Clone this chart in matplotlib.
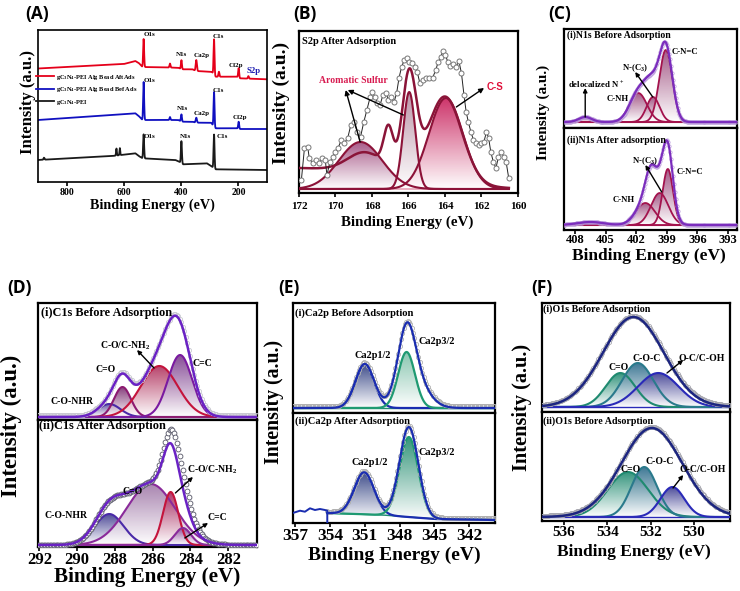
import numpy as np
import matplotlib
matplotlib.use('Agg')
import matplotlib.pyplot as plt
from matplotlib.colors import LinearSegmentedColormap
from matplotlib.patches import Polygon

plt.rcParams['font.family'] = 'Liberation Serif'
plt.rcParams['font.weight'] = 'bold'
plt.rcParams['mathtext.fontset'] = 'custom'
plt.rcParams['mathtext.rm'] = 'Liberation Serif:bold'
plt.rcParams['mathtext.default'] = 'rm'

# ---------------- (A) survey spectra ----------------
red_base_e = [900, 600, 560, 548, 535, 410, 398, 360, 349, 300, 292, 282, 205, 195, 100]
red_base_h = [113.5, 118, 121, 119, 115, 114.3, 112.7, 112.7, 111, 110.3, 110, 105.3, 105.3, 103.7, 102.7]
red_pk_e = [531, 439, 399, 347, 285, 268, 199, 165]
red_pk_h = [28, 4, 9, 11, 36, 5, 9.5, 2.5]
red_pk_w = [4, 4, 4, 5, 4, 4, 4, 4]

blue_base_e = [900, 560, 548, 535, 410, 398, 360, 349, 295, 282, 205, 195, 100]
blue_base_h = [62, 68.7, 66, 62, 62, 60.3, 60.3, 59.3, 59.3, 53.7, 53.7, 53, 53]
blue_pk_e = [531, 439, 399, 347, 285, 199]
blue_pk_h = [38, 3, 7.2, 5, 35, 7]
blue_pk_w = [4, 4, 4, 5, 4, 4]

black_base_e = [900, 640, 560, 548, 535, 420, 405, 393, 310, 292, 282, 100]
black_base_h = [22, 26, 28.7, 26, 23.7, 22, 20, 17.7, 18.7, 15.3, 12.7, 12]
black_pk_e = [879, 626, 614, 531, 399, 285]
black_pk_h = [2, 7, 7, 24, 22, 34]
black_pk_w = [4, 3, 3, 4, 4, 4]

survey_names = [r'gC$_3$N$_4$-PEI Alg Bead AftAds', r'gC$_3$N$_4$-PEI Alg Bead Bef Ads',
                r'gC$_3$N$_4$-PEI']

# ---------------- (B) S2p after adsorption ----------------
s2p_e = [171.87, 171.70, 171.52, 171.44, 171.26, 171.09, 170.91, 170.73, 170.56, 170.47,
         170.30, 170.16, 170.03, 169.86, 169.68, 169.51, 169.33, 169.16, 168.98, 168.80,
         168.63, 168.45, 168.28, 168.10, 167.98, 167.84, 167.70, 167.56, 167.40, 167.23,
         167.10, 166.96, 166.79, 166.65, 166.52, 166.38, 166.23, 166.09, 165.95, 165.80,
         165.66, 165.52, 165.38, 165.21, 165.03, 164.86, 164.68, 164.51, 164.37, 164.23,
         164.12, 163.98, 163.84, 163.70, 163.56, 163.40, 163.24, 163.10, 162.96, 162.84,
         162.72, 162.58, 162.44, 162.30, 162.16, 162.01, 161.87, 161.73, 161.61, 161.49,
         161.35, 161.21, 161.07, 160.91, 160.79, 160.65, 160.51]
s2p_h = [13, 45, 46, 35, 30, 33, 30, 35, 33, 18,
         31, 36, 41, 45, 53, 50, 55, 68, 71, 61,
         56, 71, 83, 96, 101, 96, 90, 88, 98, 100,
         93, 96, 91, 100, 115, 126, 133, 135, 131, 130,
         126, 121, 110, 113, 115, 115, 115, 123, 131, 136,
         142, 138, 131, 127, 129, 126, 132, 120, 98, 81,
         71, 61, 53, 50, 48, 50, 51, 61, 55, 41,
         31, 25, 36, 41, 36, 31, 15]
s2p_comp_c = [168.63, 165.96, 163.95]
s2p_comp_h = [47, 97, 91]
s2p_comp_w = [2.8, 0.78, 2.2]
s2p_base = 4
s2p_env_c = [168.4, 167.1, 165.96, 163.98]
s2p_env_h = [18, 38, 97, 86]
s2p_env_w = [2.2, 0.6, 0.9, 2.2]
s2p_bg_e = [160.5, 163, 165, 167, 172]
s2p_bg_h = [5, 7, 14, 22, 25]

# ---------------- (C) N1s ----------------
n1s_names = ['delocalized N+', 'C-NH', 'N-(C3)', 'C-N=C']
n1s_bef_c = [407.0, 401.8, 400.35, 399.1]
n1s_bef_h = [5, 29, 25, 72]
n1s_bef_w = [1.5, 2.0, 1.5, 1.5]
n1s_bef_base = 6
n1s_bef_xc = [399.4, 400.9]
n1s_bef_xh = [4, 10]
n1s_bef_xw = [1.5, 1.5]
n1s_aft_c = [406.5, 401.1, 399.7, 398.9]
n1s_aft_h = [3, 22, 32, 56]
n1s_aft_w = [3.0, 2.2, 2.0, 1.2]
n1s_aft_base = 5
n1s_aft_xc = [400.6, 399.0]
n1s_aft_xh = [22, 5]
n1s_aft_xw = [1.2, 1.2]

# ---------------- (D) C1s ----------------
c1s_names = ['C-O-NHR', 'C=O', 'C-O/C-NH2', 'C=C']
c1s_bef_c = [288.3, 287.6, 285.65, 284.55]
c1s_bef_h = [13, 30, 51, 62]
c1s_bef_w = [1.4, 1.05, 2.3, 1.5]
c1s_bef_base = 3
c1s_bef_xc = [285.1]
c1s_bef_xh = [10]
c1s_bef_xw = [1.5]
c1s_aft_c = [288.3, 286.1, 285.05, 284.4]
c1s_aft_h = [31, 61, 53, 17]
c1s_aft_w = [1.8, 3.0, 0.95, 1.0]
c1s_aft_base = 2
c1s_aft_dc = [284.6]
c1s_aft_dh = [18]
c1s_aft_dw = [1.5]

# ---------------- (E) Ca2p ----------------
ca_names = ['Ca2p1/2', 'Ca2p3/2']
ca_bef_c = [351.0, 347.4]
ca_bef_h = [44, 56]
ca_bef_w = [1.9, 1.7]
ca_bef_base = 5
ca_bef_xc = [346.9]
ca_bef_xh = [32]
ca_bef_xw = [2.8]
ca_aft_c = [351.05, 347.2]
ca_aft_h = [42, 80]
ca_aft_w = [2.0, 1.9]
ca_aft_base_e = [357.2, 354.3, 349.5, 345, 339.8]
ca_aft_base_h = [12, 10, 8, 4, 3]
ca_aft_xc = [347.2]
ca_aft_xh = [10]
ca_aft_xw = [2.0]
ca_aft_left_e = [357.1, 356.57, 356.14, 355.71, 355.28, 354.85, 354.42, 354.22, 354.22]
ca_aft_left_h = [10.3, 12.3, 11.3, 14.7, 13, 14, 13, 12.3, 0]

# ---------------- (F) O1s ----------------
o1s_names = ['C=O', 'C-O-C', 'O-C/C-OH']
o1s_bef_c = [533.4, 532.6, 531.65]
o1s_bef_h = [34, 44, 34]
o1s_bef_w = [1.6, 1.7, 2.2]
o1s_bef_base = 5
o1s_bef_env = (532.8, 90, 3.3)
o1s_aft_c = [533.05, 532.3, 531.0]
o1s_aft_h = [45, 50, 30]
o1s_aft_w = [2.2, 1.4, 1.3]
o1s_aft_base = 4
o1s_aft_env = (531.95, 89, 3.3)

W, H = 740, 591
fig = plt.figure(figsize=(W / 100, H / 100), dpi=100)


def box(l, t, r, b):
    return fig.add_axes([l / W, 1 - b / H, (r - l) / W, (b - t) / H])


def ftext(px, py, s, **kw):
    fig.text(px / W, 1 - py / H, s, **kw)


def gauss(x, c, h, w):
    s = w / 2.3548
    return h * np.exp(-0.5 * ((x - c) / s) ** 2)


def peaks(x, cs, hs, ws):
    out = np.zeros_like(x)
    for c, h, w in zip(cs, hs, ws):
        out = out + gauss(x, c, h, w)
    return out


def grad_fill(ax, x, lo, hi, color, alpha=0.9, z=2):
    verts = np.column_stack([np.r_[x, x[::-1]], np.r_[hi, lo[::-1]]])
    poly = Polygon(verts, closed=True, facecolor='none', edgecolor='none')
    ax.add_patch(poly)
    cmap = LinearSegmentedColormap.from_list('g', ['white', color])
    grad = np.linspace(0, 1, 256).reshape(-1, 1)
    im = ax.imshow(grad, extent=[x.min(), x.max(), lo.min(), hi.max()], origin='lower',
                   aspect='auto', cmap=cmap, alpha=alpha, zorder=z)
    im.set_clip_path(poly)


def comps(ax, x, base, cs, hs, ws, edges, fills, lw=1.3):
    for c, h, w, ec, fc in zip(cs, hs, ws, edges, fills):
        g = base + gauss(x, c, h, w)
        grad_fill(ax, x, base, g, fc)
        ax.plot(x, g, color=ec, lw=lw, zorder=3)


def style(ax, xlim, ylim, ticks, fs, bottom=True, pad=1.0):
    ax.set_xlim(xlim)
    ax.set_ylim(ylim)
    ax.set_yticks([])
    ax.set_xticks(ticks)
    if bottom:
        ax.tick_params(axis='x', direction='out', length=3, width=1.2, labelsize=fs, pad=pad)
    else:
        ax.tick_params(axis='x', length=0, labelbottom=False)
    for sp in ax.spines.values():
        sp.set_linewidth(1.6)


def arrow(ax, tail, head, ms=7):
    ax.annotate('', xy=head, xytext=tail,
                arrowprops=dict(arrowstyle='-|>', color='black', lw=1.0, mutation_scale=ms,
                                shrinkA=0, shrinkB=0), zorder=6)


def lab(ax, x, y, s, fs, color='black', ha='left', family=None):
    kw = {}
    if family:
        kw['family'] = family
    ax.text(x, y, s, fontsize=fs, color=color, ha=ha, va='center', zorder=7, **kw)


# ================= (A) =================
ax = box(38, 30, 267, 182)
xs = np.linspace(900, 100, 3201)
red = np.interp(xs, red_base_e[::-1], red_base_h[::-1]) + peaks(xs, red_pk_e, red_pk_h, red_pk_w)
blue = np.interp(xs, blue_base_e[::-1], blue_base_h[::-1]) + peaks(xs, blue_pk_e, blue_pk_h, blue_pk_w)
black = np.interp(xs, black_base_e[::-1], black_base_h[::-1]) + peaks(xs, black_pk_e, black_pk_h, black_pk_w)
ax.plot(xs, red, color='#e5001a', lw=1.3, label=survey_names[0])
ax.plot(xs, blue, color='#1010c0', lw=1.3, label=survey_names[1])
ax.plot(xs, black, color='#1a1a1a', lw=1.3, label=survey_names[2])
style(ax, (900, 100), (0, 152), [800, 600, 400, 200], 7, pad=1.5)
for sp in ax.spines.values():
    sp.set_linewidth(1.2)
ax.legend(loc='upper left', bbox_to_anchor=(-0.01, 0.72), frameon=False, fontsize=4.6,
          handlelength=2.8, handletextpad=0.45, labelspacing=0.55, borderpad=0, borderaxespad=0)
for (e, h, s) in [(530, 148, 'O1s'), (418, 127, 'N1s'), (358, 127, 'Ca2p'), (289, 145, 'C1s'),
                  (233, 117, 'Cl2p'), (530, 102, 'O1s'), (414, 74, 'N1s'), (355, 69, 'Ca2p'),
                  (289, 92, 'C1s'), (219, 64, 'Cl2p'), (530, 45, 'O1s'), (404, 45, 'N1s'),
                  (275, 45, 'C1s')]:
    lab(ax, e, h, s, 5)
lab(ax, 170, 111, 'S2p', 6.3, color='#1a1ab0')

# ================= (B) =================
ax = box(299, 31, 518, 193)
xb = np.linspace(172, 160.5, 800)
base_b = np.full_like(xb, s2p_base)
comps(ax, xb, base_b, s2p_comp_c, s2p_comp_h, s2p_comp_w,
      ['#8c1238'] * 3, ['#a04a7e', '#b58aa0', '#c81e5a'], lw=1.5)
ax.plot(xb, base_b, color='#e6a0b4', lw=1.2, zorder=2.5)
env_b = np.interp(xb, s2p_bg_e, s2p_bg_h) + peaks(xb, s2p_env_c, s2p_env_h, s2p_env_w)
ax.plot(xb, env_b, color='#8a1438', lw=1.8, zorder=4)
ax.plot(s2p_e, s2p_h, color='#222222', lw=0.7, marker='o', ms=3.6, mfc='white',
        mec='#777777', mew=0.7, zorder=5)
style(ax, (172, 160.5), (0, 162), [172, 170, 168, 166, 164, 162, 160], 8, pad=3.5)
lab(ax, 171.86, 152, 'S2p After Adsorption', 7.5)
lab(ax, 170.9, 113, 'Aromatic Sulfur', 7, color='#d81b50')
lab(ax, 161.7, 106, 'C-S', 7, color='#e0103a', family='Liberation Sans')
arrow(ax, (168.65, 51), (169.44, 103))
arrow(ax, (166.28, 78), (169.33, 103))
arrow(ax, (163.38, 86), (161.86, 105))

# ================= (C) =================
xc = np.linspace(409.08, 392.12, 900)
c_edges = ['#a3134d'] * 4
c_fills = ['#9c4a7c'] * 4
axu = box(564, 29, 737, 128)
b = np.full_like(xc, n1s_bef_base)
comps(axu, xc, b, n1s_bef_c, n1s_bef_h, n1s_bef_w, c_edges, c_fills)
axu.plot(xc, b, color='#c81d4b', lw=0.8, zorder=2.5)
env = b + peaks(xc, n1s_bef_c, n1s_bef_h, n1s_bef_w) + peaks(xc, n1s_bef_xc, n1s_bef_xh, n1s_bef_xw)
axu.plot(xc[::5], env[::5], 'o', ms=2.4, mfc='none', mec='#b898da', mew=0.5, zorder=3.5)
axu.plot(xc, env, color='#7b2dbd', lw=1.6, zorder=4)
style(axu, (409.08, 392.12), (0, 99), [408, 405, 402, 399, 396, 393], 9, bottom=False)
lab(axu, 408.78, 93, '(i)N1s Before Adsorption', 7)
lab(axu, 398.5, 76, 'C-N=C', 6.3)
lab(axu, 403.4, 60, 'N-(C$_3$)', 6.3)
lab(axu, 408.7, 43, 'delocalized N$^+$', 6.3)
lab(axu, 404.86, 29, 'C-NH', 6.3)
arrow(axu, (400.38, 31), (402.1, 56), ms=6)
arrow(axu, (407.0, 11), (407.0, 40), ms=6)

axl = box(564, 128, 737, 230)
b = np.full_like(xc, n1s_aft_base)
comps(axl, xc, b, n1s_aft_c, n1s_aft_h, n1s_aft_w, c_edges, c_fills)
axl.plot(xc, b, color='#c81d4b', lw=0.8, zorder=2.5)
env = b + peaks(xc, n1s_aft_c, n1s_aft_h, n1s_aft_w) + peaks(xc, n1s_aft_xc, n1s_aft_xh, n1s_aft_xw)
axl.plot(xc[::5], env[::5], 'o', ms=2.4, mfc='none', mec='#b898da', mew=0.5, zorder=3.5)
axl.plot(xc, env, color='#7b2dbd', lw=1.6, zorder=4)
style(axl, (409.08, 392.12), (0, 102), [408, 405, 402, 399, 396, 393], 9, pad=0.2)
lab(axl, 408.78, 90, '(ii)N1s After adsorption', 7)
lab(axl, 402.4, 69, 'N-(C$_3$)', 6.3)
lab(axl, 398.0, 58, 'C-N=C', 6.3)
lab(axl, 404.3, 30, 'C-NH', 6.3)
arrow(axl, (399.5, 38), (401.1, 65), ms=6)

# ================= (D) =================
xd = np.linspace(292.07, 280.48, 900)
axu = box(38, 303, 257, 420)
b = np.full_like(xd, c1s_bef_base)
comps(axu, xd, b, c1s_bef_c, c1s_bef_h, c1s_bef_w,
      ['#4a2aa8', '#8c1a70', '#c4143c', '#7a1aa0'],
      ['#5a4a9e', '#7a2a6e', '#b0305c', '#7a3a8c'], lw=1.5)
axu.plot(xd, b, color='#4a2aa8', lw=1.0, zorder=2.5)
env = b + peaks(xd, c1s_bef_c, c1s_bef_h, c1s_bef_w) + peaks(xd, c1s_bef_xc, c1s_bef_xh, c1s_bef_xw)
axu.plot(xd[::6], env[::6] + 1.5, 'o', ms=3, mfc='none', mec='#c8c8d0', mew=0.6, zorder=3.5)
axu.plot(xd, env, color='#6a22c4', lw=1.8, zorder=4)
style(axu, (292.07, 280.48), (0, 117), [292, 290, 288, 286, 284, 282], 12, bottom=False)
lab(axu, 291.9, 107, '(i)C1s Before Adsorption', 8.8)
lab(axu, 288.8, 74, 'C-O/C-NH$_2$', 7)
lab(axu, 289.05, 51, 'C=O', 7)
lab(axu, 283.9, 56, 'C=C', 7)
lab(axu, 291.4, 18, 'C-O-NHR', 7)
arrow(axu, (285.93, 52), (286.83, 70), ms=6)

axl = box(38, 420, 257, 547)
b = np.full_like(xd, c1s_aft_base)
comps(axl, xd, b, c1s_aft_c, c1s_aft_h, c1s_aft_w,
      ['#4a2aa8', '#8a2a9a', '#c4143c', '#8a2a9a'],
      ['#3e3a8e', '#a078a8', '#a8245a', '#8a4a9a'], lw=1.5)
axl.plot(xd, b, color='#4a2aa8', lw=1.0, zorder=2.5)
env = b + peaks(xd, c1s_aft_c, c1s_aft_h, c1s_aft_w)
data = env + peaks(xd, c1s_aft_dc, c1s_aft_dh, c1s_aft_dw)
axl.plot(xd[::6], data[::6], 'o', ms=3.5, mfc='white', mec='#555566', mew=0.6, zorder=3.5)
axl.plot(xd, env, color='#6a22c4', lw=1.8, zorder=4)
style(axl, (292.07, 280.48), (0, 127), [292, 290, 288, 286, 284, 282], 12, pad=0.3)
lab(axl, 292.0, 121, '(ii)C1s After Adsorption', 8.8)
lab(axl, 287.6, 55, 'C=O', 7)
lab(axl, 284.2, 77, 'C-O/C-NH$_2$', 7)
lab(axl, 283.1, 29, 'C=C', 7)
lab(axl, 291.7, 32, 'C-O-NHR', 7)
arrow(axl, (284.8, 54), (283.87, 70), ms=6)
arrow(axl, (284.3, 9), (283.07, 24), ms=6)

# ================= (E) =================
xe = np.linspace(357.17, 339.79, 900)
axu = box(293, 303, 495, 413)
b = np.full_like(xe, ca_bef_base)
comps(axu, xe, b, ca_bef_c, ca_bef_h, ca_bef_w, ['#1a2db0', '#1f9a72'], ['#2a3a7e', '#7cc0a8'], lw=1.6)
axu.plot(xe, b, color='#1f8a72', lw=1.0, zorder=2.5)
env = b + peaks(xe, ca_bef_c, ca_bef_h, ca_bef_w) + peaks(xe, ca_bef_xc, ca_bef_xh, ca_bef_xw)
axu.plot(xe[::6], env[::6] + 1.5, 'o', ms=3, mfc='none', mec='#b0b0b0', mew=0.6, zorder=3.5)
axu.plot(xe, env, color='#1a2db0', lw=1.6, zorder=4)
style(axu, (357.17, 339.79), (0, 110), [357, 354, 351, 348, 345, 342], 12.5, bottom=False)
lab(axu, 357.0, 100, '(i)Ca2p Before Adsorption', 7.6)
lab(axu, 351.84, 58, 'Ca2p1/2', 7.4)
lab(axu, 346.4, 71, 'Ca2p3/2', 7.4)

axl = box(293, 413, 495, 523)
xe2 = xe[xe <= 354.22]
b = np.interp(xe2, ca_aft_base_e[::-1], ca_aft_base_h[::-1])
comps(axl, xe2, b, ca_aft_c, ca_aft_h, ca_aft_w, ['#1a2db0', '#1f9a72'], ['#2a3a7e', '#1e8a6c'], lw=1.6)
axl.plot(xe2, b, color='#1f8a72', lw=1.0, zorder=2.5)
env = b + peaks(xe2, ca_aft_c, ca_aft_h, ca_aft_w) + peaks(xe2, ca_aft_xc, ca_aft_xh, ca_aft_xw)
axl.plot(xe2[::6], env[::6] + 1.5, 'o', ms=3, mfc='none', mec='#b0b0b0', mew=0.6, zorder=3.5)
axl.plot(xe2, env, color='#1a2db0', lw=1.6, zorder=4)
axl.plot(ca_aft_left_e, ca_aft_left_h, color='#1a2db0', lw=1.4, zorder=4)
style(axl, (357.17, 339.79), (0, 110), [357, 354, 351, 348, 345, 342], 12.5, pad=0.3)
lab(axl, 357.0, 102, '(ii)Ca2p After Adsorption', 7.6)
lab(axl, 352.1, 60, 'Ca2p1/2', 7.4)
lab(axl, 346.4, 70, 'Ca2p3/2', 7.4)

# ================= (F) =================
xf = np.linspace(537.02, 528.34, 900)
f_edges = ['#1f8a70', '#2a7a8c', '#2a2ab8']
f_fills = ['#1f8a70', '#2a6a8a', '#3a3a90']
axu = box(542, 303, 730, 412)
b = np.full_like(xf, o1s_bef_base)
comps(axu, xf, b, o1s_bef_c, o1s_bef_h, o1s_bef_w, f_edges, f_fills, lw=1.5)
axu.plot(xf, b, color='#2a2ab8', lw=1.0, zorder=2.5)
env = b + gauss(xf, *o1s_bef_env)
axu.plot(xf[::6], env[::6] + 1.2, 'o', ms=3, mfc='none', mec='#a8a8b0', mew=0.6, zorder=3.5)
axu.plot(xf, env, color='#1c2580', lw=1.8, zorder=4)
style(axu, (537.02, 528.34), (0, 109), [536, 534, 532, 530], 11, bottom=False)
lab(axu, 536.97, 103, '(i)O1s Before Adsorption', 7.2)
lab(axu, 532.86, 54, 'C-O-C', 7)
lab(axu, 533.97, 44, 'C=O', 7)
lab(axu, 530.74, 54, 'O-C/C-OH', 7)
arrow(axu, (531.25, 39), (530.5, 52), ms=6)

axl = box(542, 412, 730, 521)
b = np.full_like(xf, o1s_aft_base)
comps(axl, xf, b, o1s_aft_c, o1s_aft_h, o1s_aft_w, f_edges, f_fills, lw=1.5)
axl.plot(xf, b, color='#2a2ab8', lw=1.0, zorder=2.5)
env = b + gauss(xf, *o1s_aft_env)
axl.plot(xf[::6], env[::6] + 1.2, 'o', ms=3, mfc='none', mec='#a8a8b0', mew=0.6, zorder=3.5)
axl.plot(xf, env, color='#1c2580', lw=1.8, zorder=4)
style(axl, (537.02, 528.34), (0, 109), [536, 534, 532, 530], 11, pad=0.3)
lab(axl, 536.97, 100, '(ii)O1s Before Adsorption', 7.2)
lab(axl, 532.26, 59, 'C-O-C', 7)
lab(axl, 533.4, 51, 'C=O', 7)
lab(axl, 530.65, 51, 'O-C/C-OH', 7)
arrow(axl, (530.97, 33), (530.5, 46), ms=6)

# ---------------- axis titles and panel letters ----------------
for (px, py, fs) in [(28, 101.5, 12), (281.5, 102.5, 14), (543.5, 112.5, 11),
                     (11.5, 426, 16.4), (274, 401.5, 14.2), (522, 407.5, 14.7)]:
    ftext(px, py, 'Intensity (a.u.)', fontsize=fs, rotation=90, ha='center', va='center')
for (px, py, fs) in [(152.5, 205, 10.2), (407.5, 222, 10.8), (649, 256, 12.5),
                     (147, 577, 15.2), (394, 555, 14), (633.5, 552, 12.5)]:
    ftext(px, py, 'Binding Energy (eV)', fontsize=fs, ha='center', va='center')
for (px, py, s) in [(37.5, 14.5, '(A)'), (304.5, 14.5, '(B)'), (560, 14.5, '(C)'),
                    (20, 288, '(D)'), (289, 288, '(E)'), (542, 288, '(F)')]:
    ftext(px, py, s, fontsize=12.5, family='Open Sans', weight='bold', ha='center', va='center')

fig.savefig('out.png', dpi=100)
